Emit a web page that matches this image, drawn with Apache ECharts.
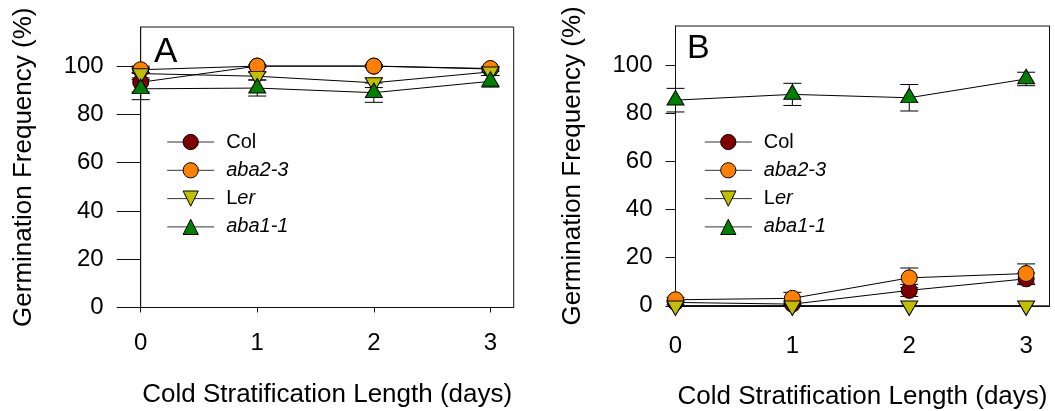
<!DOCTYPE html>
<html><head><meta charset="utf-8">
<script src="https://cdn.jsdelivr.net/npm/echarts@6/dist/echarts.min.js"></script>
<style>html,body{margin:0;padding:0;background:#fff}#c{width:1055px;height:411px}</style>
</head><body><div id="c"></div>
<script>
// ---- data ----
const days = [0, 1, 2, 3];
const seriesNames = ['Col', 'aba2-3', 'Ler', 'aba1-1'];
const xTicks = [0, 1, 2, 3];
const yTicks = [0, 20, 40, 60, 80, 100];
const xTitle = 'Cold Stratification Length (days)';
const yTitle = 'Germination Frequency (%)';
const panelLabels = ['A', 'B'];

// Panel A
const colA = [93.3, 100, 100, 98.8];
const colAErr = [4, 0.5, 0.5, 1];
const aba23A = [98.5, 100, 100, 99];
const aba23AErr = [1.5, 0.5, 0.5, 0.5];
const lerA = [96.9, 95.8, 93.1, 97.6];
const lerAErr = [2.5, 1.5, 2, 1.5];
const aba11A = [90.6, 90.9, 89, 93.7];
const aba11AErr = [4.5, 3.3, 4, 2.4];

// Panel B
const colB = [1.4, 0.7, 6.4, 11.2];
const colBErr = [1, 0.5, 2.5, 2.4];
const aba23B = [2.5, 3.1, 11.6, 13.4];
const aba23BErr = [1, 2.5, 4.1, 4];
const lerB = [0, 0, 0, 0];
const lerBErr = [0, 0, 0, 0];
const aba11B = [85.4, 87.8, 86.4, 94.2];
const aba11BErr = [4.9, 4.6, 5.5, 2.8];

// ---- styles ----
const FF = '"Liberation Sans", Arial, sans-serif';
const colors = { 'Col': '#800000', 'aba2-3': '#ff8000', 'Ler': '#c0c000', 'aba1-1': '#008000' };
const symbols = {
  'Col': { symbol: 'circle', symbolSize: 16, symbolOffset: [0, 0] },
  'aba2-3': { symbol: 'circle', symbolSize: 16, symbolOffset: [0, 0] },
  'Ler': { symbol: 'triangle', symbolSize: [17, 14.5], symbolRotate: 180, symbolOffset: [0, 2.4] },
  'aba1-1': { symbol: 'triangle', symbolSize: [17, 14.5], symbolOffset: [0, -2.4] }
};

const panels = [
  { vals: [colA, aba23A, lerA, aba11A], errs: [colAErr, aba23AErr, lerAErr, aba11AErr] },
  { vals: [colB, aba23B, lerB, aba11B], errs: [colBErr, aba23BErr, lerBErr, aba11BErr] }
];

const layout = [
  { grid: { left: 140.7, top: 27, width: 373, height: 280.5 }, yTick: 24, yMargin: 37, xMargin: 23.5, xGap: 74, yGap: 104,
    legend: { left: 166.7, top: 132 }, label: { left: 154, top: 35, size: 35 } },
  { grid: { left: 675.5, top: 26, width: 374, height: 279.8 }, yTick: 10, yMargin: 23, xMargin: 29, xGap: 78, yGap: 90,
    legend: { left: 704.3, top: 132 }, label: { left: 687, top: 32, size: 34 } }
];

function errRender(params, api) {
  const x = api.value(0), y = api.value(1), e = api.value(2);
  if (!e) return null;
  const t = api.coord([x, y + e]), b = api.coord([x, y - e]);
  const hw = 9;
  const style = { stroke: '#000', lineWidth: 1, fill: null };
  return {
    type: 'group', children: [
      { type: 'line', shape: { x1: t[0], y1: t[1], x2: b[0], y2: b[1] }, style },
      { type: 'line', shape: { x1: t[0] - hw, y1: t[1], x2: t[0] + hw, y2: t[1] }, style },
      { type: 'line', shape: { x1: b[0] - hw, y1: b[1], x2: b[0] + hw, y2: b[1] }, style }
    ]
  };
}

const grids = [], xAxes = [], yAxes = [], series = [], legends = [], titles = [];
const txt = { color: '#000', fontFamily: FF };

layout.forEach((L, p) => {
  grids.push(Object.assign({ show: true, borderColor: '#111', borderWidth: 1, backgroundColor: 'transparent',
    containLabel: false, outerBoundsMode: 'none' }, L.grid));
  xAxes.push({
    type: 'value', gridIndex: p, min: 0, max: 3.2,
    axisLine: { show: true, onZero: false, lineStyle: { color: '#111', width: 1 } },
    axisTick: { show: true, inside: false, length: 5, customValues: xTicks, lineStyle: { color: '#111' } },
    axisLabel: { customValues: xTicks, fontSize: 24, margin: L.xMargin, ...txt },
    splitLine: { show: false },
    name: xTitle, nameLocation: 'middle', nameGap: L.xGap,
    nameTextStyle: { fontSize: 26, ...txt }
  });
  yAxes.push({
    type: 'value', gridIndex: p, min: 0, max: 116.2,
    axisLine: { show: true, lineStyle: { color: '#111', width: 1 } },
    axisTick: { show: true, inside: false, length: L.yTick, customValues: yTicks, lineStyle: { color: '#111' } },
    axisLabel: { customValues: yTicks, fontSize: 24, margin: L.yMargin, ...txt },
    splitLine: { show: false },
    name: yTitle, nameLocation: 'middle', nameRotate: 90, nameGap: L.yGap,
    nameTextStyle: { fontSize: 26, ...txt }
  });
  titles.push({ text: panelLabels[p], left: L.label.left, top: L.label.top, padding: 0,
    textStyle: { fontSize: L.label.size, fontWeight: 'normal', ...txt } });

  const P = panels[p];
  seriesNames.forEach((name, i) => {
    series.push({
      type: 'custom', name: name + '_err', xAxisIndex: p, yAxisIndex: p, z: 2,
      renderItem: errRender, clip: false, silent: true,
      data: days.map((d, k) => [d, P.vals[i][k], P.errs[i][k]])
    });
  });
  seriesNames.forEach((name, i) => {
    series.push(Object.assign({
      type: 'line', name: name, xAxisIndex: p, yAxisIndex: p, z: 3 + i,
      clip: false, silent: true, animation: false,
      lineStyle: { color: '#000', width: 1 },
      itemStyle: { color: colors[name], borderColor: '#000', borderWidth: 1 },
      data: days.map((d, k) => [d, P.vals[i][k]])
    }, symbols[name]));
  });
  legends.push({
    orient: 'vertical', left: L.legend.left, top: L.legend.top, padding: 0,
    itemWidth: 47, itemHeight: 19, itemGap: 8.3, selectedMode: false,
    data: seriesNames,
    lineStyle: { color: '#333', width: 1 },
    itemStyle: { borderColor: '#000', borderWidth: 1 },
    formatter: (n) => n === 'Ler' ? '{n0|L}{i|er}' : (n === 'Col' ? '{n0|Col}' : '{i0|' + n + '}'),
    textStyle: {
      fontSize: 20, lineHeight: 19, ...txt,
      rich: {
        n0: { fontSize: 20, fontFamily: FF, color: '#000', padding: [0, 0, 0, 7] },
        i0: { fontSize: 20, fontFamily: FF, color: '#000', fontStyle: 'italic', padding: [0, 0, 0, 7] },
        i: { fontSize: 20, fontFamily: FF, color: '#000', fontStyle: 'italic' }
      }
    }
  });
});

const chart = echarts.init(document.getElementById('c'), null, { renderer: 'canvas' });
chart.setOption({
  animation: false,
  backgroundColor: '#fff',
  title: titles,
  grid: grids,
  xAxis: xAxes,
  yAxis: yAxes,
  legend: legends,
  series: series
});
</script>
</body></html>
